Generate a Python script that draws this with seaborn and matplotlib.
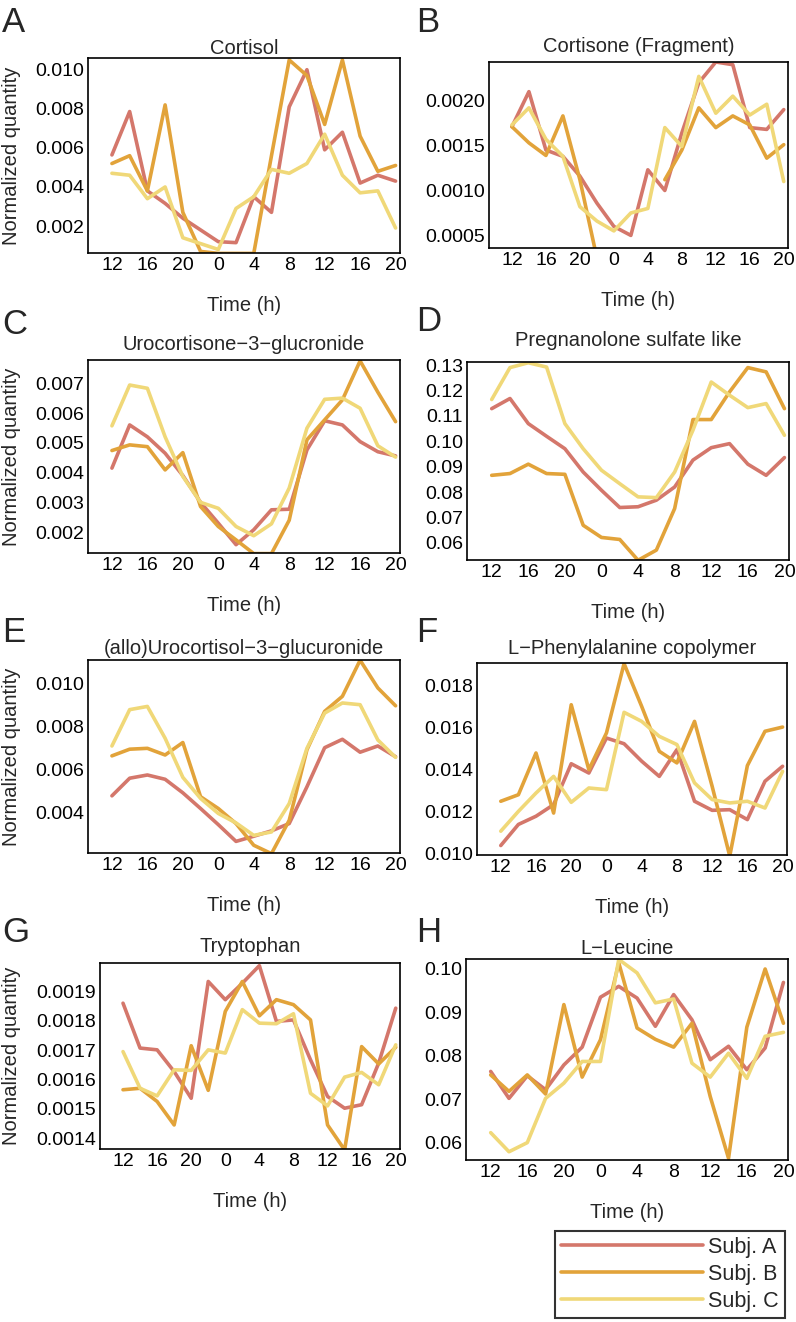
import matplotlib

matplotlib.use("Agg")
import matplotlib.pyplot as plt
import numpy as np
import pandas as pd
import seaborn as sns
from matplotlib.lines import Line2D
from matplotlib.ticker import AutoMinorLocator, FixedLocator

nan = np.nan

# sampling times (hours since midnight of day 1), every 2 h
TIME_H = [12, 14, 16, 18, 20, 22, 24, 26, 28, 30, 32, 34, 36, 38, 40, 42, 44]
TIME_TICKS = [12, 16, 20, 24, 28, 32, 36, 40, 44]
TIME_LABELS = ["12", "16", "20", "0", "4", "8", "12", "16", "20"]
TIME_MINOR = [14, 18, 22, 26, 30, 34, 38, 42]

SUBJECTS = ["Subj. A", "Subj. B", "Subj. C"]
SUBJECT_COLORS = ["#d4776b", "#e2a33a", "#f0d878"]

PANEL_LETTERS = ["A", "B", "C", "D", "E", "F", "G", "H"]
TITLES = [
    "Cortisol",
    "Cortisone (Fragment)",
    "Urocortisone\u22123\u2212glucronide",
    "Pregnanolone sulfate like",
    "(allo)Urocortisol\u22123\u2212glucuronide",
    "L\u2212Phenylalanine copolymer",
    "Tryptophan",
    "L\u2212Leucine",
]

# A - Cortisol
cortisol_a = [0.00564, 0.00786, 0.0038, 0.00316, 0.0024, 0.0018, 0.0012, 0.00115, 0.0035,
              0.0027, 0.0081, 0.0100, 0.0059, 0.0068, 0.0042, 0.0046, 0.0043]
cortisol_b = [0.0052, 0.0056, 0.0038, 0.0082, 0.0027, 0.0007, 0.0006, 0.0006, 0.0006,
              0.0056, 0.0105, 0.0097, 0.0072, 0.0105, 0.0066, 0.0048, 0.0051]
cortisol_c = [0.0047, 0.0046, 0.0034, 0.0040, 0.0014, 0.0011, 0.0008, 0.0029, 0.0035,
              0.0049, 0.0047, 0.0052, 0.0067, 0.0046, 0.0037, 0.0038, 0.0019]

# B - Cortisone (Fragment)
cortisone_a = [0.00171, 0.0021, 0.00145, 0.00138, 0.00116, 0.00086, 0.0006, 0.0005, 0.00123,
               0.0010, 0.00164, 0.0022, 0.00243, 0.0024, 0.0017, 0.00168, 0.0019]
cortisone_b = [0.00171, 0.00153, 0.00139, 0.00183, 0.00112, 0.00025, nan, nan, nan,
               0.00112, 0.00145, 0.00192, 0.0017, 0.00183, 0.00173, 0.00136, 0.00151]
cortisone_c = [0.00173, 0.00192, 0.00157, 0.00138, 0.00082, 0.00066, 0.00055, 0.00075, 0.0008,
               0.0017, 0.00149, 0.00227, 0.00186, 0.00205, 0.00184, 0.00196, 0.0011]

# C - Urocortisone-3-glucronide
urocortisone_a = [0.00415, 0.0056, 0.0052, 0.00465, 0.0039, 0.003, 0.0023, 0.00158, 0.00208,
                  0.00275, 0.00277, 0.00476, 0.00574, 0.0056, 0.00504, 0.0047, 0.00456]
urocortisone_b = [0.00474, 0.00493, 0.00487, 0.00409, 0.00467, 0.00286, 0.00219, 0.00174, 0.00128,
                  0.00128, 0.0024, 0.0051, 0.00577, 0.00644, 0.00775, 0.0067, 0.00571]
urocortisone_c = [0.00557, 0.00694, 0.00683, 0.0052, 0.00387, 0.003, 0.0028, 0.00219, 0.00188,
                  0.00228, 0.00348, 0.00549, 0.00646, 0.0065, 0.00616, 0.0049, 0.00452]

# D - Pregnanolone sulfate like
pregnanolone_a = [0.1129, 0.1169, 0.107, 0.102, 0.0971, 0.0879, 0.0807, 0.0739, 0.0742,
                  0.0768, 0.082, 0.0926, 0.0975, 0.0991, 0.091, 0.0866, 0.0936]
pregnanolone_b = [0.0866, 0.0873, 0.091, 0.0873, 0.087, 0.0669, 0.0621, 0.0613, 0.0531,
                  0.0571, 0.0735, 0.1086, 0.1086, 0.1195, 0.1291, 0.1274, 0.1129]
pregnanolone_c = [0.1165, 0.1291, 0.131, 0.1293, 0.107, 0.0971, 0.0886, 0.0833, 0.0781,
                  0.0778, 0.0879, 0.1044, 0.1234, 0.1182, 0.1133, 0.1149, 0.1024]

# E - (allo)Urocortisol-3-glucuronide
urocortisol_a = [0.00478, 0.0056, 0.00575, 0.00555, 0.00492, 0.00419, 0.00344, 0.00266, 0.0029,
                 0.00315, 0.00349, 0.0052, 0.00702, 0.00741, 0.00681, 0.0071, 0.0066]
urocortisol_b = [0.00664, 0.00695, 0.00699, 0.00668, 0.00726, 0.00474, 0.00419, 0.00349, 0.00248,
                 0.00209, 0.00364, 0.00692, 0.00871, 0.00941, 0.01109, 0.0098, 0.00897]
urocortisol_c = [0.0071, 0.00879, 0.00894, 0.00746, 0.00564, 0.00466, 0.00396, 0.00352, 0.00294,
                 0.0031, 0.00442, 0.00699, 0.00863, 0.0091, 0.00902, 0.00738, 0.00657]

# F - L-Phenylalanine copolymer
phenylalanine_a = [0.0104, 0.0114, 0.01179, 0.01234, 0.01428, 0.01384, 0.0155, 0.01523, 0.0144,
                   0.01368, 0.01495, 0.0125, 0.01207, 0.0121, 0.01163, 0.01345, 0.01416]
phenylalanine_b = [0.0125, 0.01281, 0.01479, 0.01194, 0.01708, 0.014, 0.01574, 0.01903, 0.017,
                   0.01487, 0.01432, 0.01629, 0.01321, 0.0099, 0.01419, 0.01582, 0.01602]
phenylalanine_c = [0.01108, 0.01202, 0.01289, 0.01368, 0.01245, 0.01313, 0.01305, 0.01672, 0.01629,
                   0.01558, 0.01519, 0.01337, 0.01258, 0.01242, 0.0125, 0.01218, 0.01392]

# G - Tryptophan
tryptophan_a = [0.00186, 0.001707, 0.001701, 0.001627, 0.001536, 0.001934, 0.001872, 0.001928, 0.001988,
                0.001798, 0.001803, 0.001667, 0.001542, 0.001502, 0.001514, 0.001656, 0.001843]
tryptophan_b = [0.001565, 0.00157, 0.001525, 0.001445, 0.001715, 0.001563, 0.001832, 0.001934, 0.001817,
                0.001872, 0.001855, 0.001803, 0.001445, 0.00136, 0.001712, 0.001653, 0.00171]
tryptophan_c = [0.001695, 0.00157, 0.001544, 0.001633, 0.001631, 0.001701, 0.00169, 0.001838, 0.001792,
                0.00179, 0.001824, 0.001553, 0.00151, 0.001608, 0.001624, 0.001582, 0.001718]

# H - L-Leucine
leucine_a = [0.0764, 0.0702, 0.0754, 0.0722, 0.0779, 0.082, 0.0935, 0.096, 0.0933,
             0.0868, 0.0941, 0.0883, 0.0791, 0.0822, 0.0768, 0.0818, 0.0969]
leucine_b = [0.0756, 0.0718, 0.0756, 0.0712, 0.0918, 0.0751, 0.0837, 0.1014, 0.0864,
             0.0838, 0.082, 0.0875, 0.0706, 0.0564, 0.0866, 0.100, 0.0875]
leucine_c = [0.0623, 0.0579, 0.060, 0.0702, 0.0737, 0.0787, 0.0787, 0.1022, 0.0991,
             0.0922, 0.0931, 0.0783, 0.0751, 0.0806, 0.0748, 0.0845, 0.0854]

SERIES = [
    (cortisol_a, cortisol_b, cortisol_c),
    (cortisone_a, cortisone_b, cortisone_c),
    (urocortisone_a, urocortisone_b, urocortisone_c),
    (pregnanolone_a, pregnanolone_b, pregnanolone_c),
    (urocortisol_a, urocortisol_b, urocortisol_c),
    (phenylalanine_a, phenylalanine_b, phenylalanine_c),
    (tryptophan_a, tryptophan_b, tryptophan_c),
    (leucine_a, leucine_b, leucine_c),
]

Y_TICKS = [
    [0.002, 0.004, 0.006, 0.008, 0.010],
    [0.0005, 0.0010, 0.0015, 0.0020],
    [0.002, 0.003, 0.004, 0.005, 0.006, 0.007],
    [0.06, 0.07, 0.08, 0.09, 0.10, 0.11, 0.12, 0.13],
    [0.004, 0.006, 0.008, 0.010],
    [0.010, 0.012, 0.014, 0.016, 0.018],
    [0.0014, 0.0015, 0.0016, 0.0017, 0.0018, 0.0019],
    [0.06, 0.07, 0.08, 0.09, 0.10],
]
Y_LABELS = [
    ["0.002", "0.004", "0.006", "0.008", "0.010"],
    ["0.0005", "0.0010", "0.0015", "0.0020"],
    ["0.002", "0.003", "0.004", "0.005", "0.006", "0.007"],
    ["0.06", "0.07", "0.08", "0.09", "0.10", "0.11", "0.12", "0.13"],
    ["0.004", "0.006", "0.008", "0.010"],
    ["0.010", "0.012", "0.014", "0.016", "0.018"],
    ["0.0014", "0.0015", "0.0016", "0.0017", "0.0018", "0.0019"],
    ["0.06", "0.07", "0.08", "0.09", "0.10"],
]
Y_LIMS = [
    (0.00062, 0.0106),
    (0.00036, 0.00243),
    (0.0013, 0.00778),
    (0.0532, 0.1313),
    (0.00212, 0.0111),
    (0.00995, 0.01906),
    (0.001363, 0.001997),
    (0.056, 0.1023),
]

# layout, in pixels of the 796 x 1322 canvas: (left, top, right, bottom)
W, H = 796, 1322
AXES_PX = [
    (88, 58, 400, 253), (489, 62, 788, 248),
    (88, 360, 400, 553), (467, 362, 789, 560),
    (88, 660, 400, 853), (477, 663, 787, 855),
    (100, 963, 400, 1149), (466, 959, 788, 1160),
]
TITLE_Y = [48, 46, 345, 340, 649, 649, 947, 949]
LETTER_POS = [(2, 22), (416, 22), (2, 325), (416, 322), (2, 633), (416, 633), (2, 933), (416, 933)]


def to_frame(values):
    rows = []
    for subj, ys in zip(SUBJECTS, values):
        seg = 0
        for t, v in zip(TIME_H, ys):
            if np.isnan(v):
                seg += 1
                continue
            rows.append({"time": t, "value": v, "subject": subj, "segment": seg})
    return pd.DataFrame(rows)


def plot_panel(fig, i):
    left, top, right, bottom = AXES_PX[i]
    ax = fig.add_axes([left / W, 1 - bottom / H, (right - left) / W, (bottom - top) / H])
    df = to_frame(SERIES[i])
    sns.lineplot(
        data=df, x="time", y="value", hue="subject", units="segment", estimator=None,
        hue_order=SUBJECTS, palette=SUBJECT_COLORS, linewidth=2.6, legend=False, ax=ax,
    )
    ax.set_xlim(9.3, 44.5)
    ax.set_ylim(*Y_LIMS[i])
    ax.xaxis.set_major_locator(FixedLocator(TIME_TICKS))
    ax.xaxis.set_minor_locator(FixedLocator(TIME_MINOR))
    ax.set_xticklabels(TIME_LABELS)
    ax.yaxis.set_major_locator(FixedLocator(Y_TICKS[i]))
    ax.set_yticklabels(Y_LABELS[i])
    ax.yaxis.set_minor_locator(AutoMinorLocator(5))
    ax.tick_params(axis="both", which="both", direction="in", top=False, right=False,
                   labelsize=14, colors="black", width=1.0)
    ax.tick_params(axis="x", which="both", length=5, pad=3)
    ax.tick_params(axis="y", which="major", length=5, pad=3)
    ax.tick_params(axis="y", which="minor", length=2.5)
    for sp in ax.spines.values():
        sp.set_color("black")
        sp.set_linewidth(1.2)

    h_px = bottom - top
    ax.set_xlabel("Time (h)", fontsize=14.5)
    ax.xaxis.set_label_coords(0.5, -43 / h_px)
    if i % 2 == 0:
        ax.set_ylabel("Normalized quantity", fontsize=14.5)
        ax.yaxis.set_label_coords(21 / W, 1 - (top + bottom) / 2 / H, transform=fig.transFigure)
    else:
        ax.set_ylabel("")

    fig.text((left + right) / 2 / W, 1 - TITLE_Y[i] / H, TITLES[i],
             ha="center", va="center", fontsize=14.5)
    lx, ly = LETTER_POS[i]
    fig.text(lx / W, 1 - ly / H, PANEL_LETTERS[i], ha="left", va="center", fontsize=25)
    return ax


def main():
    sns.set_style("white")
    plt.rcParams["font.family"] = ["Liberation Sans", "DejaVu Sans"]
    plt.rcParams["axes.unicode_minus"] = True

    fig = plt.figure(figsize=(W / 100, H / 100), dpi=100)
    for i in range(len(SERIES)):
        plot_panel(fig, i)

    handles = [Line2D([0], [0], color=c, linewidth=2.6) for c in SUBJECT_COLORS]
    leg = fig.legend(
        handles, SUBJECTS, loc="upper left", bbox_to_anchor=(555 / W, 1 - 1231 / H),
        frameon=True, fancybox=False, edgecolor="black", fontsize=15.5,
        handlelength=6.6, handletextpad=0.25, borderpad=0.28, labelspacing=0.27,
        borderaxespad=0,
    )
    leg.get_frame().set_linewidth(1.5)

    fig.savefig("out.png", dpi=100)
    plt.close(fig)


if __name__ == "__main__":
    main()
